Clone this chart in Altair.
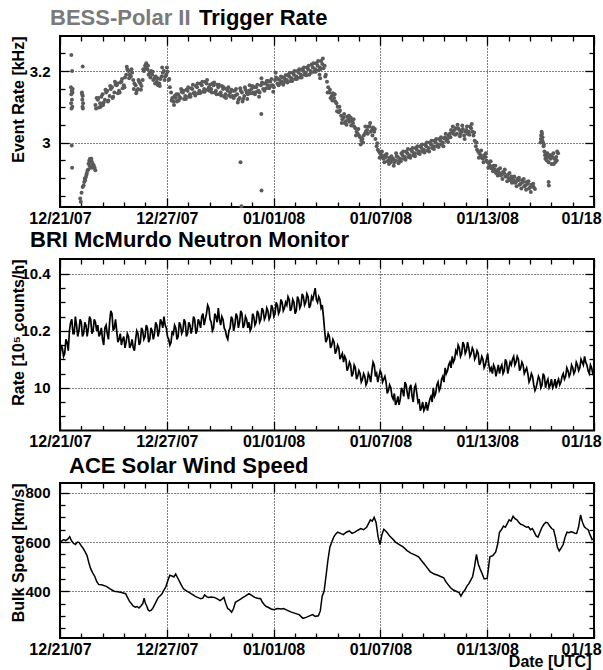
import altair as alt
import pandas as pd

FONT = "Liberation Sans"
YFONT = "Liberation Sans Narrow, Liberation Sans"

# ---------------- time axis (ROOT-style evenly divided time axis) ----------------
AXIS_START = pd.Timestamp("2007-12-21 11:00", tz="UTC")
AXIS_DAYS = 28.25
N_DIV = 5
N_SUB = 5

def to_ms(days):
    return int((AXIS_START + pd.Timedelta(days=days)).value // 10**6)

def to_iso(days_list):
    return [(AXIS_START + pd.Timedelta(days=d)).strftime("%Y-%m-%dT%H:%M:%SZ") for d in days_list]

step = AXIS_DAYS / N_DIV
x_major = [to_ms(k * step) for k in range(N_DIV + 1)]
x_minor = [to_ms(k * step / N_SUB) for k in range(N_DIV * N_SUB + 1) if k % N_SUB]
LAST_LABEL_MS = to_ms(AXIS_DAYS - 0.5)

# ---------------- BESS-Polar II trigger rate [kHz] ----------------
trig_main_start = 1.875          # first sample of the main band, days after axis start
trig_main = [
    3.105,
    3.12, 3.11, 3.135, 3.12, 3.145, 3.13, 3.155, 3.14,
    3.16, 3.145, 3.17, 3.16, 3.19, 3.2, 3.185, 3.175,
    3.16, 3.15, 3.165, 3.175, 3.215, 3.205, 3.195, 3.19,
    3.18, 3.17, 3.165, 3.185, 3.2, 3.19, 3.175, 3.14,
    3.115, 3.125, 3.135, 3.125, 3.14, 3.13, 3.145, 3.135,
    3.15, 3.14, 3.155, 3.145, 3.16, 3.15, 3.165, 3.155,
    3.15, 3.16, 3.145, 3.155, 3.14, 3.15, 3.135, 3.145,
    3.14, 3.13, 3.145, 3.135, 3.125, 3.14, 3.13, 3.14,
    3.145, 3.15, 3.14, 3.155, 3.145, 3.16, 3.15, 3.165,
    3.16, 3.17, 3.16, 3.175, 3.165, 3.175, 3.17, 3.18,
    3.175, 3.185, 3.18, 3.19, 3.185, 3.195, 3.19, 3.2,
    3.195, 3.205, 3.2, 3.21, 3.205, 3.215, 3.21, 3.22,
    3.215, 3.17, 3.14, 3.13, 3.125, 3.11, 3.085, 3.075,
    3.07, 3.06, 3.065, 3.07, 3.055, 3.04, 3.025, 3.015,
    3.01, 3.025, 3.035, 3.045, 3.035, 3.03, 2.99, 2.975,
    2.965, 2.955, 2.96, 2.95, 2.945, 2.955, 2.95, 2.96,
    2.955, 2.965, 2.96, 2.97, 2.965, 2.975, 2.97, 2.98,
    2.975, 2.985, 2.98, 2.99, 2.985, 2.995, 2.99, 3.0,
    2.995, 3.005, 3.0, 3.015, 3.01, 3.025, 3.03, 3.035,
    3.025, 3.035, 3.03, 3.02, 3.035, 3.03, 3.04, 3.02,
    2.99, 2.975, 2.965, 2.955, 2.96, 2.945, 2.935, 2.93,
    2.925, 2.92, 2.915, 2.91, 2.915, 2.905, 2.9, 2.905,
    2.895, 2.89, 2.895, 2.885, 2.89, 2.88, 2.885, 2.875,
    2.88, 2.87,
]
trig_mid = [   # samples half-way between the main-band samples
    3.125,
    3.098, 3.128, 3.112, 3.14, 3.118, 3.15, 3.128, 3.162,
    3.138, 3.168, 3.152, 3.182, 3.205, 3.19, 3.195, 3.165,
    3.145, 3.17, 3.158, 3.2, 3.222, 3.19, 3.2, 3.175,
    3.185, 3.16, 3.178, 3.195, 3.185, 3.198, 3.155, 3.125,
    3.13, 3.115, 3.128, 3.142, 3.122, 3.148, 3.128, 3.152,
    3.138, 3.158, 3.138, 3.165, 3.142, 3.17, 3.148, 3.162,
    3.165, 3.14, 3.162, 3.135, 3.158, 3.128, 3.15, 3.132,
    3.148, 3.125, 3.15, 3.12, 3.145, 3.122, 3.148, 3.135,
    3.138, 3.158, 3.135, 3.162, 3.14, 3.168, 3.145, 3.172,
    3.152, 3.178, 3.155, 3.182, 3.16, 3.185, 3.162, 3.188,
    3.19, 3.172, 3.195, 3.178, 3.2, 3.182, 3.205, 3.19,
    3.21, 3.19, 3.218, 3.198, 3.222, 3.202, 3.228, 3.208,
    3.19, 3.155, 3.125, 3.138, 3.115, 3.1, 3.09, 3.065,
    3.055, 3.072, 3.058, 3.062, 3.045, 3.03, 3.02, 3.005,
    3.02, 3.032, 3.045, 3.03, 3.042, 3.01, 2.98, 2.97,
    2.958, 2.965, 2.948, 2.958, 2.952, 2.945, 2.962, 2.95,
    2.97, 2.955, 2.975, 2.96, 2.98, 2.965, 2.985, 2.97,
    2.99, 2.975, 2.995, 2.978, 3.0, 2.985, 3.005, 2.99,
    3.01, 2.995, 3.012, 3.005, 3.02, 3.035, 3.025, 3.04,
    3.04, 3.025, 3.038, 3.03, 3.025, 3.045, 3.03, 3.005,
    2.98, 2.97, 2.958, 2.965, 2.95, 2.942, 2.928, 2.935,
    2.915, 2.925, 2.908, 2.918, 2.905, 2.91, 2.895, 2.9,
    2.888, 2.898, 2.882, 2.895, 2.878, 2.89, 2.872, 2.882,
    2.875,
]
trig_outer = [  # scattered samples a quarter-step after the main-band samples
    3.095,
    3.125, 3.1, 3.105, 3.148, 3.115, 3.158, 3.125, 3.17,
    3.165, 3.14, 3.178, 3.155, 3.212, 3.18, 3.205, 3.15,
    3.138, 3.175, 3.148, 3.205, 3.208, 3.215, 3.182, 3.198,
    3.165, 3.18, 3.158, 3.21, 3.175, 3.21, 3.178, 3.118,
    3.105, 3.135, 3.118, 3.15, 3.145, 3.122, 3.155, 3.128,
    3.162, 3.132, 3.165, 3.138, 3.17, 3.142, 3.175, 3.145,
    3.14, 3.168, 3.135, 3.162, 3.132, 3.155, 3.125, 3.155,
    3.128, 3.145, 3.132, 3.112, 3.152, 3.115, 3.155, 3.122,
    3.16, 3.138, 3.155, 3.142, 3.128, 3.18, 3.165, 3.152,
    3.172, 3.158, 3.142, 3.195, 3.178, 3.165, 3.182, 3.17,
    3.168, 3.195, 3.172, 3.2, 3.178, 3.205, 3.182, 3.21,
    3.188, 3.215, 3.195, 3.222, 3.198, 3.228, 3.205, 3.235,
    3.185, 3.14, 3.148, 3.118, 3.135, 3.088, 3.1, 3.055,
    3.08, 3.05, 3.075, 3.048, 3.065, 3.02, 3.038, 2.995,
    3.0, 3.045, 3.025, 3.055, 3.02, 3.038, 2.998, 2.958,
    2.975, 2.945, 2.968, 2.94, 2.962, 2.935, 2.97, 2.942,
    2.948, 2.975, 2.952, 2.982, 2.958, 2.985, 2.962, 2.99,
    2.968, 2.995, 2.972, 3.0, 2.975, 3.005, 2.982, 3.01,
    2.988, 3.015, 2.99, 3.025, 3.002, 3.015, 3.045, 3.022,
    3.05, 3.018, 3.048, 3.01, 3.045, 3.022, 3.052, 3.028,
    3.0, 2.958, 2.978, 2.945, 2.97, 2.93, 2.948, 2.92,
    2.935, 2.908, 2.928, 2.898, 2.925, 2.892, 2.915, 2.888,
    2.905, 2.878, 2.902, 2.872, 2.898, 2.868, 2.892, 2.862,
    2.885,
]
trig_extra_days = [
    0.60, 0.64, 0.58, 0.62, 0.60, 0.66, 0.63, 0.59, 0.65, 0.61, 0.67, 0.62, 0.64,
    1.20, 1.16, 1.20, 1.18, 1.22, 1.19, 1.21, 1.17,
    1.07, 1.10, 1.20, 1.25, 1.28, 1.33, 1.37, 1.42, 1.46, 1.50, 1.51, 1.55, 1.59,
    1.62, 1.64, 1.69, 1.73, 1.78, 1.83, 1.87, 1.14, 1.31, 1.40, 1.57, 1.66, 1.75,
    9.55, 9.60, 10.65, 10.66, 13.73, 13.76,
    25.42, 25.45, 25.48, 25.50, 25.53, 25.55, 25.58, 25.60, 25.63, 25.66, 25.70,
    25.75, 25.80, 25.85, 25.90, 25.95, 26.00, 26.05, 26.10, 26.15, 26.20, 26.25,
    26.30, 26.35, 25.85, 25.86, 25.44, 25.52, 25.68, 25.78, 25.98, 26.12, 26.28,
]
trig_extra_rate = [
    3.245, 3.20, 3.155, 3.145, 3.135, 3.14, 3.12, 3.11, 3.10, 3.095, 3.15, 2.992, 2.93,
    3.213, 3.14, 3.13, 3.12, 3.11, 3.10, 3.095, 3.135,
    2.844, 2.835, 2.876, 2.88, 2.89, 2.895, 2.904, 2.915, 2.923, 2.925, 2.941, 2.95, 2.955,
    2.93, 2.948, 2.946, 2.94, 2.937, 2.93, 2.923, 2.86, 2.9, 2.91, 2.935, 2.955, 2.93,
    2.945, 2.822, 3.08, 2.866, 3.19, 3.18,
    3.0, 3.02, 3.03, 3.025, 3.015, 3.0, 2.99, 2.995, 2.975, 2.965, 2.97,
    2.95, 2.96, 2.945, 2.965, 2.955, 2.94, 2.96, 2.97, 2.955, 2.945, 2.96,
    2.975, 2.97, 2.89, 2.88, 3.01, 3.005, 2.955, 2.97, 2.965, 2.94, 2.95,
]
trig_days = ([trig_main_start + 0.125 * i for i in range(len(trig_main))]
             + [trig_main_start + 0.0625 + 0.125 * i for i in range(len(trig_mid))]
             + [trig_main_start + 0.03125 + 0.125 * i for i in range(len(trig_outer))]
             + trig_extra_days)
trig_rate = trig_main + trig_mid + trig_outer + trig_extra_rate

# ---------------- BRI McMurdo neutron monitor [1e5 counts/h] ----------------
neutron_3h = [   # on the 3-hour marks
    10.11, 10.14, 10.12, 10.16, 10.20, 10.24, 10.19, 10.22,
    10.20, 10.23, 10.19, 10.22, 10.21, 10.24, 10.20, 10.23,
    10.22, 10.19, 10.17, 10.21, 10.19, 10.23, 10.26, 10.21,
    10.20, 10.17, 10.15, 10.18, 10.16, 10.18, 10.15, 10.14,
    10.17, 10.19, 10.16, 10.20, 10.18, 10.21, 10.17, 10.20,
    10.19, 10.22, 10.20, 10.23, 10.25, 10.21, 10.17, 10.16,
    10.19, 10.21, 10.18, 10.22, 10.20, 10.23, 10.19, 10.22,
    10.21, 10.24, 10.20, 10.23, 10.25, 10.22, 10.26, 10.28,
    10.23, 10.21, 10.25, 10.28, 10.22, 10.24, 10.20, 10.17,
    10.21, 10.24, 10.22, 10.25, 10.23, 10.26, 10.22, 10.24,
    10.23, 10.21, 10.25, 10.23, 10.26, 10.24, 10.27, 10.25,
    10.27, 10.25, 10.28, 10.26, 10.29, 10.27, 10.30, 10.28,
    10.29, 10.31, 10.28, 10.30, 10.27, 10.31, 10.29, 10.32,
    10.30, 10.32, 10.29, 10.31, 10.35, 10.30, 10.31, 10.29,
    10.20, 10.17, 10.18, 10.15, 10.16, 10.13, 10.14, 10.11,
    10.09, 10.10, 10.07, 10.08, 10.05, 10.07, 10.04, 10.05,
    10.03, 10.04, 10.02, 10.04, 10.06, 10.08, 10.05, 10.04,
    10.05, 10.03, 10.02, 9.99, 10.00, 9.96, 9.94, 9.97,
    9.96, 9.99, 10.02, 9.98, 10.00, 9.97, 10.00, 9.98,
    9.96, 9.93, 9.92, 9.95, 9.94, 9.97, 10.00, 9.98,
    10.02, 10.00, 10.04, 10.07, 10.06, 10.09, 10.11, 10.10,
    10.12, 10.14, 10.12, 10.15, 10.13, 10.14, 10.12, 10.13,
    10.11, 10.12, 10.09, 10.10, 10.08, 10.12, 10.06, 10.05,
    10.07, 10.06, 10.05, 10.08, 10.06, 10.09, 10.07, 10.08,
    10.11, 10.09, 10.10, 10.07, 10.08, 10.06, 10.05, 10.03,
    10.04, 9.99, 10.02, 10.03, 10.01, 10.04, 10.02, 10.00,
    10.03, 10.01, 10.00, 10.03, 10.02, 10.05, 10.04, 10.06,
    10.05, 10.07, 10.06, 10.08, 10.07, 10.09, 10.11, 10.08,
    10.05, 10.07, 10.04,
]
neutron_mid = [  # half-way between the 3-hour marks
    10.15, 10.11, 10.17, 10.13, 10.23, 10.19, 10.25, 10.18,
    10.24, 10.18, 10.23, 10.18, 10.25, 10.19, 10.24, 10.20,
    10.18, 10.21, 10.15, 10.22, 10.17, 10.27, 10.20, 10.24,
    10.16, 10.19, 10.17, 10.14, 10.19, 10.14, 10.17, 10.13,
    10.20, 10.15, 10.21, 10.17, 10.22, 10.16, 10.21, 10.17,
    10.23, 10.18, 10.24, 10.21, 10.22, 10.18, 10.15, 10.20,
    10.22, 10.17, 10.23, 10.19, 10.24, 10.18, 10.23, 10.19,
    10.25, 10.19, 10.24, 10.21, 10.26, 10.24, 10.29, 10.24,
    10.20, 10.26, 10.23, 10.24, 10.25, 10.21, 10.18, 10.20,
    10.25, 10.20, 10.26, 10.21, 10.27, 10.21, 10.25, 10.21,
    10.20, 10.26, 10.22, 10.27, 10.23, 10.28, 10.24, 10.28,
    10.24, 10.29, 10.25, 10.30, 10.26, 10.31, 10.27, 10.30,
    10.32, 10.27, 10.31, 10.26, 10.32, 10.28, 10.33, 10.29,
    10.33, 10.28, 10.32, 10.33, 10.31, 10.32, 10.28, 10.25,
    10.16, 10.19, 10.14, 10.17, 10.12, 10.15, 10.10, 10.12,
    10.11, 10.06, 10.09, 10.04, 10.08, 10.03, 10.06, 10.02,
    10.05, 10.01, 10.05, 10.02, 10.09, 10.04, 10.02, 10.06,
    10.02, 10.04, 9.98, 10.01, 9.97, 9.98, 9.95, 9.94,
    10.00, 9.97, 10.01, 9.96, 10.01, 9.95, 10.01, 9.95,
    9.92, 9.95, 9.93, 9.92, 9.96, 9.95, 9.97, 10.01,
    9.99, 10.03, 10.02, 10.05, 10.08, 10.07, 10.09, 10.13,
    10.15, 10.11, 10.16, 10.12, 10.16, 10.11, 10.14, 10.10,
    10.13, 10.08, 10.11, 10.07, 10.10, 10.08, 10.07, 10.08,
    10.04, 10.08, 10.07, 10.05, 10.10, 10.05, 10.09, 10.10,
    10.08, 10.11, 10.06, 10.09, 10.05, 10.07, 10.02, 10.05,
    10.01, 10.00, 10.04, 10.00, 10.05, 10.00, 10.03, 10.01,
    10.00, 10.03, 10.02, 10.01, 10.04, 10.03, 10.07, 10.04,
    10.08, 10.05, 10.09, 10.06, 10.10, 10.08, 10.09, 10.06,
    10.08, 10.05,
]
neutron_days, neutron_rate = [], []
for i, v in enumerate(neutron_3h):
    neutron_days.append(0.125 * i)
    neutron_rate.append(v)
    if i < len(neutron_mid):
        neutron_days.append(0.125 * i + 0.0625)
        neutron_rate.append(neutron_mid[i])

# ---------------- ACE solar wind bulk speed [km/s] ----------------
wind_days = [
    0.0, 0.1, 0.2, 0.3, 0.41, 0.51, 0.61, 0.71, 0.82, 0.92, 1.02, 1.12, 1.22, 1.33, 1.43,
    1.53, 1.63, 1.73, 1.84, 1.94, 2.04, 2.24, 2.45, 2.65, 2.86, 3.06, 3.26, 3.47, 3.57,
    3.67, 3.77, 3.87, 3.98, 4.08, 4.18, 4.28, 4.38, 4.45, 4.52, 4.59, 4.66, 4.73, 4.81,
    4.9, 5.0, 5.1, 5.2, 5.3, 5.4, 5.5, 5.61, 5.71, 5.81, 5.92, 6.02, 6.12, 6.22, 6.32,
    6.42, 6.53, 6.63, 6.73, 6.83, 6.93, 7.04, 7.14, 7.24, 7.34, 7.45, 7.55, 7.65, 7.75,
    7.85, 8.0, 8.16, 8.3, 8.47, 8.57, 8.67, 8.77, 8.87, 8.97, 9.08, 9.18, 9.28, 9.38,
    9.49, 9.59, 9.69, 9.8, 9.9, 10.0, 10.1, 10.2, 10.3, 10.45, 10.61, 10.71, 10.81,
    10.91, 11.01, 11.17, 11.32, 11.5, 11.7, 11.83, 12.03, 12.24, 12.44, 12.65, 12.85,
    12.95, 13.05, 13.2, 13.36, 13.5, 13.67, 13.77, 13.87, 13.97, 14.07, 14.18, 14.28,
    14.38, 14.48, 14.58, 14.69, 14.84, 14.99, 15.15, 15.3, 15.45, 15.6, 15.76, 15.91,
    16.06, 16.22, 16.32, 16.42, 16.52, 16.62, 16.72, 16.83, 16.93, 17.03, 17.13, 17.29,
    17.44, 17.6, 17.75, 17.95, 18.15, 18.36, 18.56, 18.77, 18.97, 19.12, 19.28, 19.43,
    19.58, 19.79, 19.99, 20.14, 20.3, 20.4, 20.5, 20.65, 20.81, 20.96, 21.11, 21.21,
    21.32, 21.42, 21.52, 21.62, 21.73, 21.83, 21.93, 22.03, 22.13, 22.23, 22.34, 22.44,
    22.6, 22.74, 22.9, 23.05, 23.15, 23.25, 23.35, 23.46, 23.56, 23.66, 23.76, 23.86,
    23.97, 24.07, 24.17, 24.27, 24.37, 24.48, 24.58, 24.68, 24.78, 24.89, 24.99, 25.09,
    25.19, 25.29, 25.39, 25.5, 25.6, 25.7, 25.8, 25.91, 26.01, 26.11, 26.21, 26.31,
    26.41, 26.51, 26.62, 26.72, 26.82, 26.92, 27.03, 27.13, 27.23, 27.33, 27.43, 27.54,
    27.64, 27.74, 27.84, 27.94, 28.04, 28.15, 28.25,
]
wind_speed = [
    600, 605, 610, 606, 612, 622, 605, 595, 590, 600, 598, 585, 575, 560, 545,
    515, 490, 475, 460, 440, 428, 425, 420, 410, 400, 398, 395, 390, 375,
    360, 350, 340, 335, 338, 332, 340, 350, 372, 350, 340, 325, 320, 322,
    330, 345, 360, 375, 382, 390, 405, 420, 445, 465, 462, 458, 470, 455, 440,
    425, 410, 405, 400, 395, 390, 385, 380, 376, 373, 370, 372, 385, 378,
    375, 377, 375, 370, 362, 368, 375, 350, 330, 325, 315, 330, 355, 360,
    365, 370, 375, 380, 385, 390, 385, 380, 375, 372, 370, 355, 345,
    338, 335, 328, 325, 330, 328, 330, 322, 315, 310, 305, 290,
    292, 295, 300, 305, 298, 300, 320, 380, 400, 460, 530, 580,
    600, 620, 632, 640, 635, 630, 640, 645, 635, 640, 648, 655,
    650, 660, 675, 690, 685, 700, 680, 620, 590, 630, 652, 640,
    625, 612, 600, 590, 580, 565, 555, 548, 540, 525, 510, 495,
    480, 470, 465, 460, 455, 440, 430, 415, 405, 400, 395, 380,
    395, 405, 420, 430, 445, 460, 500, 550, 510, 490, 470, 450,
    452, 540, 545, 560, 590, 640, 650, 665, 660, 675, 690, 685,
    705, 695, 690, 680, 672, 670, 665, 660, 662, 650, 655, 640,
    625, 620, 640, 660, 672, 680, 678, 665, 655, 650, 620, 580,
    564, 575, 590, 620, 640, 638, 642, 640, 636, 635, 660, 710,
    680, 662, 655, 650, 630, 610, 615,
]

trig_df = pd.DataFrame({"time": to_iso(trig_days), "value": trig_rate})
neutron_df = pd.DataFrame({"time": to_iso(neutron_days), "value": neutron_rate})
wind_df = pd.DataFrame({"time": to_iso(wind_days), "value": wind_speed})

W = 534
XS = alt.Scale(type="utc", domain=[x_major[0], x_major[-1]], nice=False)

MAJ = {"expr": "-9"}
MINR = {"expr": "-5"}


def tick_axis(orient, values, size):
    return alt.Axis(orient=orient, values=values, labels=False, grid=False, domain=False,
                    title=None, tickSize=size, tickColor="black", tickWidth=1.3, minExtent=0)


def title_text(text, color, dx, dy):
    return alt.Chart(pd.DataFrame({"txt": [text]})).mark_text(
        align="left", baseline="alphabetic", font=FONT, fontSize=22, fontWeight="bold", color=color
    ).encode(text="txt:N", x=alt.value(dx), y=alt.value(dy))


def panel(df, mark, ydom, ymaj, ymin, yfmt, ytitle, height, titles, xtitle=None):
    ys = alt.Scale(domain=ydom, nice=False, zero=False)
    xaxis_kw = dict(
        orient="bottom", values=x_major, format="%m/%d/%y",
        labelFont=FONT, labelFontSize=16, labelFontWeight="bold", labelColor="black",
        labelPadding=12, labelFlush=False, labelOverlap=False,
        labelExpr=f"datum.value > {LAST_LABEL_MS} ? '01/18' : datum.label",
        labelOffset={"condition": {"test": f"datum.value > {LAST_LABEL_MS}", "value": -13}, "value": 0},
        tickSize=MAJ, tickColor="black", tickWidth=1.3,
        grid=True, gridColor="black", gridDash=[1, 2], gridWidth=1, gridOpacity=1,
        domain=False, minExtent=0,
    )
    if xtitle:
        xaxis_kw.update(title=xtitle, titleFont=FONT, titleFontSize=16, titleFontWeight="bold",
                        titleColor="black", titleX=W - 3, titleY=15, titleAlign="right",
                        titleBaseline="top", titleAngle=0)
    else:
        xaxis_kw.update(title=None)
    yaxis = alt.Axis(
        orient="left", values=ymaj, format=yfmt,
        labelFont=YFONT, labelFontSize=15, labelFontWeight="bold", labelColor="black",
        labelPadding=19, labelOverlap=False, labelFlush=False,
        tickSize=MAJ, tickColor="black", tickWidth=1.3,
        grid=True, gridColor="black", gridDash=[1, 2], gridWidth=1, gridOpacity=1,
        domain=False, minExtent=0,
        title=ytitle, titleFont=FONT, titleFontSize=16, titleFontWeight="bold",
        titleColor="black", titleX=-34, titleAnchor="end",
    )
    main = mark.encode(
        x=alt.X("time:T", scale=XS, axis=alt.Axis(**xaxis_kw)),
        y=alt.Y("value:Q", scale=ys, axis=yaxis),
    )
    ghost = alt.Chart(df).mark_point(opacity=0, size=1)
    l2 = ghost.encode(x=alt.X("time:T", scale=XS, axis=tick_axis("bottom", x_minor, MINR)),
                      y=alt.Y("value:Q", scale=ys, axis=tick_axis("left", ymin, MINR)))
    l3 = ghost.encode(x=alt.X("time:T", scale=XS, axis=tick_axis("top", x_major, MAJ)),
                      y=alt.Y("value:Q", scale=ys, axis=tick_axis("right", ymaj, MAJ)))
    l4 = ghost.encode(x=alt.X("time:T", scale=XS, axis=tick_axis("top", x_minor, MINR)),
                      y=alt.Y("value:Q", scale=ys, axis=tick_axis("right", ymin, MINR)))
    ch = alt.layer(main, l2, l3, l4, *titles).resolve_axis(x="independent", y="independent")
    return ch.properties(width=W, height=height)


p1 = panel(
    trig_df,
    alt.Chart(trig_df).mark_circle(size=16, color="#5a5a5a", opacity=1),
    [2.82, 3.298], [3.0, 3.2], [2.85, 2.9, 2.95, 3.05, 3.1, 3.15, 3.25], ".1~f",
    "Event Rate [kHz]", 171,
    titles=(title_text("BESS-Polar II", "#7a7a7a", -10, -10.7),
            title_text("Trigger Rate", "black", 139, -10.7)),
)

p2 = panel(
    neutron_df,
    alt.Chart(neutron_df).mark_line(color="black", strokeWidth=1.7),
    [9.85, 10.452], [10.0, 10.2, 10.4], [9.9, 9.95, 10.05, 10.1, 10.15, 10.25, 10.3, 10.35],
    ".1~f", "Rate [10\u2075 counts/h]", 171.5,
    titles=(title_text("BRI McMurdo Neutron Monitor", "black", -30, -12.3),),
)

p3 = panel(
    wind_df,
    alt.Chart(wind_df).mark_line(color="black", strokeWidth=1.5),
    [210, 840], [400, 600, 800], [250, 300, 350, 450, 500, 550, 650, 700, 750],
    "d", "Bulk Speed [km/s]", 155, xtitle="Date [UTC]",
    titles=(title_text("ACE Solar Wind Speed", "black", 9, -10),),
)

top = alt.vconcat(p1, p2, spacing=0)
chart = alt.vconcat(top, p3, spacing=3).properties(
    padding={"left": 8, "top": 6, "right": 0, "bottom": 0},
    background="white",
).configure_view(stroke="black", strokeWidth=2)

chart.save("out.html", embed_options={"renderer": "svg", "actions": False})
